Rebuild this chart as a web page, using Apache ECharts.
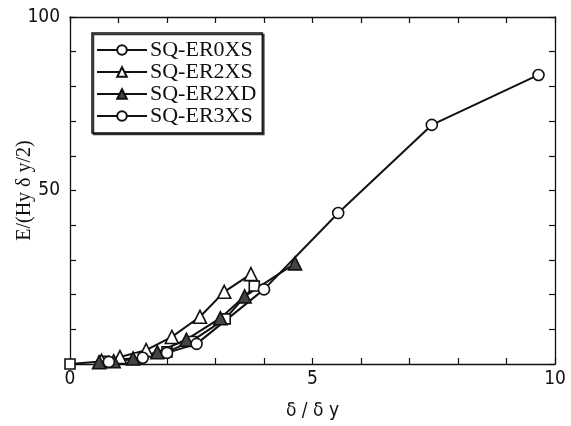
<!DOCTYPE html>
<html>
<head>
<meta charset="utf-8">
<script src="https://cdn.jsdelivr.net/npm/echarts@6/dist/echarts.min.js"></script>
<style>
  html, body { margin: 0; padding: 0; background: #fff; }
  #chart { width: 571px; height: 426px; }
</style>
</head>
<body>
<div id="chart"></div>
<script>
// Normalised displacement (δ/δy) vs. normalised energy E/(Hy δy/2)
const seriesNames = ['SQ-ER0XS', 'SQ-ER2XS', 'SQ-ER2XD', 'SQ-ER3XS'];

const er0xs = [[0, 0], [0.7, 0.8], [1.4, 1.8], [2.0, 3.5], [2.5, 6.5], [3.2, 13.0], [3.8, 22.5]];
const er2xs = [[0.65, 0.9], [1.03, 2.0], [1.57, 4.0], [2.1, 7.8], [2.68, 13.6], [3.18, 20.8], [3.73, 25.9]];
const er2xd = [[0.6, 0.5], [0.9, 0.8], [1.3, 1.6], [1.8, 3.4], [2.4, 7.0], [3.1, 13.2], [3.6, 19.5], [4.64, 29.0]];
const er3xs = [[0.8, 0.6], [1.5, 1.8], [2.0, 3.2], [2.61, 5.8], [4.0, 21.5], [5.53, 43.5], [7.46, 68.9], [9.66, 83.3]];

const xTicks = [0, 5, 10];
const yTicks = [50, 100];

const tickFont = "'Liberation Sans Narrow', 'DejaVu Sans Condensed', 'Liberation Sans', sans-serif";
const serifFont = "'Liberation Serif', 'DejaVu Serif', serif";

const ink = '#111';

// symbol: legend marker; pointSymbol: marker drawn at each data point
function lineSeries(name, data, symbol, pointSymbol, fill, size) {
  return {
    name: name,
    type: 'line',
    data: data.map(p => ({ value: p, symbol: pointSymbol })),
    symbol: symbol,
    symbolSize: size,
    showAllSymbol: true,
    lineStyle: { color: ink, width: 2 },
    itemStyle: { color: fill, borderColor: ink, borderWidth: 1.6 },
    emphasis: { disabled: true },
    animation: false,
    z: 3
  };
}

const chart = echarts.init(document.getElementById('chart'), null, { renderer: 'canvas' });

const tickStyle = { show: true, inside: true, length: 6, lineStyle: { color: ink, width: 1.2 } };
const minorStyle = { show: true, splitNumber: 5, length: 6, lineStyle: { color: ink, width: 1.2 } };

chart.setOption({
  backgroundColor: '#fff',
  animation: false,
  grid: { left: 70, right: 16, top: 17, bottom: 62, outerBoundsMode: 'none', containLabel: false },
  legend: {
    orient: 'vertical',
    left: 92,
    top: 33,
    data: seriesNames,
    itemWidth: 50,
    itemHeight: 12,
    itemGap: 0,
    padding: [6, 6, 6, 4],
    borderColor: ink,
    borderWidth: 1.5,
    backgroundColor: '#fff',
    shadowColor: '#333',
    shadowBlur: 0,
    shadowOffsetX: 1.5,
    shadowOffsetY: 1.5,
    textStyle: { fontFamily: serifFont, fontSize: 22, color: ink, lineHeight: 19, height: 22, padding: [0, 0, 0, -2] },
    selectedMode: false
  },
  xAxis: [{
    type: 'value',
    min: 0, max: 10, interval: 5,
    name: 'δ / δ y',
    nameLocation: 'middle',
    nameGap: 38,
    nameMoveOverlap: false,
    nameTextStyle: { fontFamily: tickFont, fontSize: 19, color: ink },
    axisLine: { show: true, onZero: false, lineStyle: { color: ink, width: 1.3 } },
    axisTick: tickStyle,
    minorTick: minorStyle,
    splitLine: { show: false },
    axisLabel: {
      fontFamily: tickFont, fontSize: 19, color: ink, margin: 6,
      formatter: v => xTicks.includes(v) ? String(v) : ''
    }
  }, {
    type: 'value',
    position: 'top',
    min: 0, max: 10, interval: 5,
    axisLine: { show: true, onZero: false, lineStyle: { color: ink, width: 1.3 } },
    axisTick: tickStyle,
    minorTick: minorStyle,
    splitLine: { show: false },
    axisLabel: { show: false }
  }],
  yAxis: [{
    type: 'value',
    min: 0, max: 100, interval: 50,
    name: 'E/(Hy δ y/2)',
    nameLocation: 'middle',
    nameGap: 35,
    nameMoveOverlap: false,
    nameRotate: 90,
    nameTextStyle: { fontFamily: serifFont, fontSize: 20, color: ink },
    axisLine: { show: true, onZero: false, lineStyle: { color: ink, width: 1.3 } },
    axisTick: tickStyle,
    minorTick: minorStyle,
    splitLine: { show: false },
    axisLabel: {
      fontFamily: tickFont, fontSize: 19, color: ink, margin: 10,
      formatter: v => yTicks.includes(v) ? String(v) : ''
    }
  }, {
    type: 'value',
    position: 'right',
    min: 0, max: 100, interval: 50,
    axisLine: { show: true, onZero: false, lineStyle: { color: ink, width: 1.3 } },
    axisTick: tickStyle,
    minorTick: minorStyle,
    splitLine: { show: false },
    axisLabel: { show: false }
  }],
  series: [
    lineSeries('SQ-ER0XS', er0xs, 'circle', 'rect', '#fff', 10),
    lineSeries('SQ-ER2XS', er2xs, 'triangle', 'triangle', '#fff', 13),
    lineSeries('SQ-ER2XD', er2xd, 'triangle', 'triangle', '#444', 13),
    lineSeries('SQ-ER3XS', er3xs, 'circle', 'circle', '#fff', 11)
  ]
});
</script>
</body>
</html>
